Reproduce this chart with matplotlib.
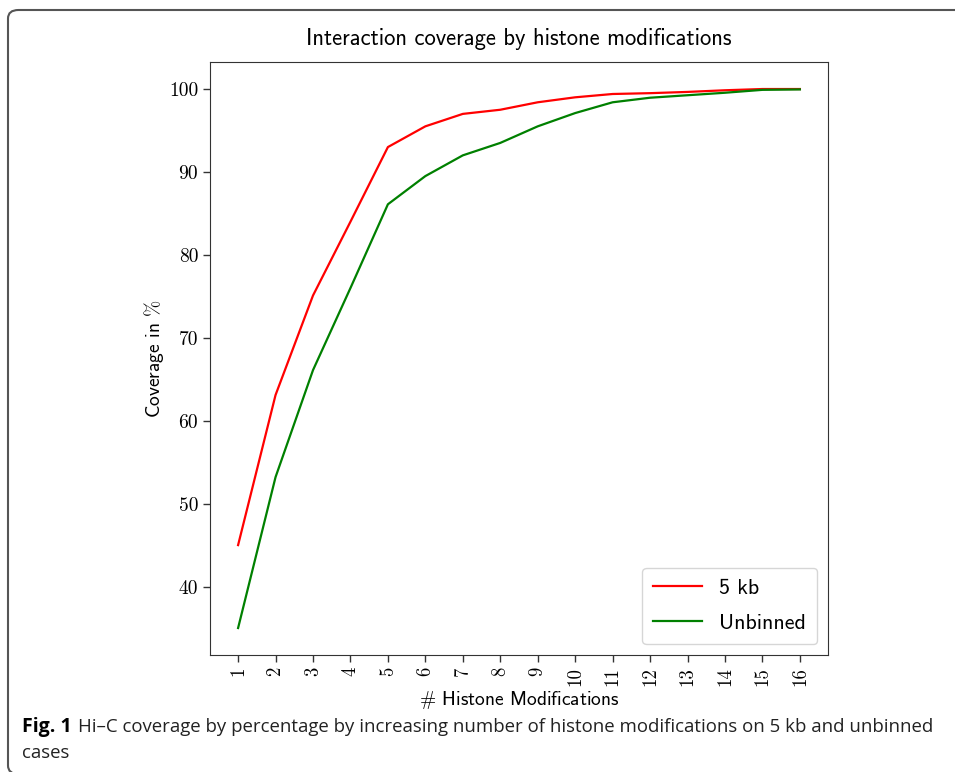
import matplotlib
matplotlib.use('Agg')
import matplotlib.pyplot as plt
from matplotlib.patches import FancyBboxPatch

# number of histone modifications used
n_mods = list(range(1, 17))

# coverage in %
cov_5kb = [45.0, 63.1, 75.1, 84.0, 93.0, 95.5, 97.0, 97.5, 98.4, 99.0,
           99.4, 99.5, 99.65, 99.85, 100.0, 100.0]
cov_unbinned = [35.0, 53.2, 66.1, 76.0, 86.1, 89.5, 92.0, 93.5, 95.5, 97.1,
                98.4, 98.95, 99.25, 99.55, 99.9, 99.95]

y_ticks = [40, 50, 60, 70, 80, 90, 100]

plt.rcParams['mathtext.fontset'] = 'cm'
plt.rcParams['axes.unicode_minus'] = False

fig = plt.figure(figsize=(9.55, 7.72), dpi=100)
ax = fig.add_axes([0.2199, 0.1516, 0.6471, 0.768])

ax.plot(n_mods, cov_5kb, color='red', lw=1.6, label='5 kb')
ax.plot(n_mods, cov_unbinned, color='green', lw=1.6, label='Unbinned')

ax.set_xticks(n_mods)
ax.set_xticklabels([str(n) for n in n_mods], rotation=90,
                   fontfamily='cmr10', fontsize=13.5)
ax.set_yticks(y_ticks)
ax.set_yticklabels([str(v) for v in y_ticks], fontfamily='cmr10', fontsize=14)
ax.tick_params(length=5, width=1, color='#333333')
for sp in ax.spines.values():
    sp.set_color('#333333')

ax.set_title('Interaction coverage by histone modifications',
             fontfamily='cmss10', fontsize=16.3, pad=12)
ax.set_xlabel(r'$\#$ Histone Modifications', fontfamily='cmss10',
              fontsize=14, labelpad=2)
ax.set_ylabel(r'Coverage in $\%$', fontfamily='cmss10', fontsize=14,
              labelpad=2)

leg = ax.legend(loc='lower right', prop={'family': 'cmss10', 'size': 15.8},
                handlelength=2.2, borderpad=0.5, labelspacing=0.72,
                fancybox=True, framealpha=0.8)

# caption below the chart
fig.text(22 / 955, 1 - 727 / 772, r'Fig. 1', fontweight='bold', fontsize=14,
         family=['Open Sans', 'DejaVu Sans'], va='center', ha='left')
fig.text(78 / 955, 1 - 727 / 772,
         'Hi–C coverage by percentage by increasing number of histone modifications on 5 kb and unbinned',
         fontsize=13.4, family=['Open Sans', 'DejaVu Sans'],
         va='center', ha='left', color='#222222')
fig.text(22 / 955, 1 - 753 / 772, 'cases', fontsize=13.4,
         family=['Open Sans', 'DejaVu Sans'],
         va='center', ha='left', color='#222222')

# rounded frame around the figure (right and bottom edges run off the page)
frame = FancyBboxPatch((8 / 955, -2 / 772), 1.2, (772 - 10 + 2) / 772,
                       boxstyle='round,pad=0,rounding_size=0.011',
                       transform=fig.transFigure, fill=False,
                       edgecolor='#555555', lw=1.5, clip_on=False)
fig.patches.append(frame)

fig.savefig('out.png', dpi=100)
